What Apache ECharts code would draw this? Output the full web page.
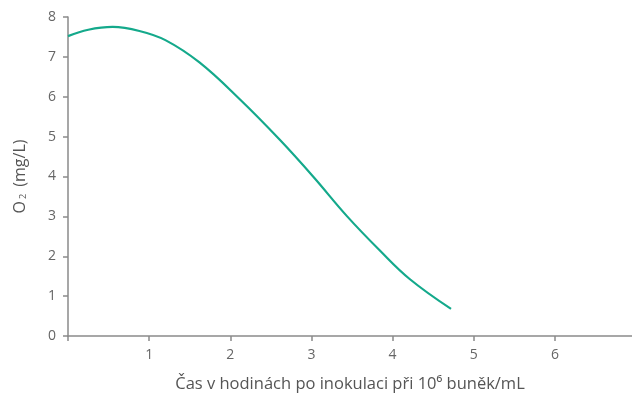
<!DOCTYPE html>
<html>
<head>
<meta charset="utf-8">
<script src="https://cdn.jsdelivr.net/npm/echarts@6/dist/echarts.min.js"></script>
<style>
  html, body { margin: 0; padding: 0; background: #fff; }
</style>
</head>
<body>
<div id="chart" style="width: 632px; height: 398px;"></div>
<script>
// hodnoty
const hours = [0, 0.25, 0.55, 0.88, 1.2, 1.62, 2.12, 2.61, 3.02, 3.44, 3.84, 4.21, 4.72];
const oxygen = [7.52, 7.68, 7.75, 7.65, 7.42, 6.86, 5.93, 4.92, 4.0, 3.0, 2.15, 1.43, 0.68];
const xTickValues = [0, 1, 2, 3, 4, 5, 6];
const xTicks = ['', '1', '2', '3', '4', '5', '6'];
const yTicks = ['0', '1', '2', '3', '4', '5', '6', '7', '8'];

const points = hours.map((h, i) => [h, oxygen[i]]);

const chart = echarts.init(document.getElementById('chart'), null, { renderer: 'canvas' });

const axisColor = '#8a8a8a';
const textColor = '#666666';
const font = '"Open Sans", "Noto Sans", sans-serif';

const option = {
  animation: false,
  grid: {
    left: 68,
    right: 0,
    top: 17,
    bottom: 61
  },
  xAxis: {
    type: 'value',
    min: 0,
    max: 6.95,
    interval: 1,
    name: 'Čas v hodinách po inokulaci při 10⁶ buněk/mL',
    nameLocation: 'middle',
    nameGap: 40,
    nameTextStyle: { color: '#555', fontSize: 16.5, fontFamily: font },
    axisLine: { lineStyle: { color: axisColor, width: 1.5 } },
    axisTick: { length: 5, customValues: xTickValues, lineStyle: { color: axisColor, width: 1.5 } },
    axisLabel: {
      color: textColor,
      fontSize: 14,
      fontFamily: font,
      margin: 12,
      customValues: xTickValues,
      formatter: v => xTicks[xTickValues.indexOf(v)] || ''
    },
    splitLine: { show: false }
  },
  yAxis: {
    type: 'value',
    min: 0,
    max: 8,
    interval: 1,
    name: '{n|O}{s|2}{n| (mg/L)}',
    nameLocation: 'middle',
    nameGap: 40,
    nameTextStyle: {
      color: '#555',
      fontSize: 16,
      fontFamily: font,
      rich: {
        n: { fontSize: 16, fontFamily: font, color: '#555', verticalAlign: 'bottom', lineHeight: 20 },
        s: { fontSize: 9, fontFamily: font, color: '#555', verticalAlign: 'bottom', lineHeight: 13, padding: [0, 3, 0, 2] }
      }
    },
    axisLine: { show: true, lineStyle: { color: axisColor, width: 1.5 } },
    axisTick: { show: true, length: 5, lineStyle: { color: axisColor, width: 1.5 } },
    axisLabel: {
      color: textColor,
      fontSize: 14,
      fontFamily: font,
      margin: 12,
      formatter: v => yTicks[v]
    },
    splitLine: { show: false }
  },
  series: [
    {
      type: 'line',
      data: points,
      smooth: 0.4,
      symbol: 'none',
      lineStyle: { color: '#14a98b', width: 2.2 }
    }
  ]
};

chart.setOption(option);
</script>
</body>
</html>
